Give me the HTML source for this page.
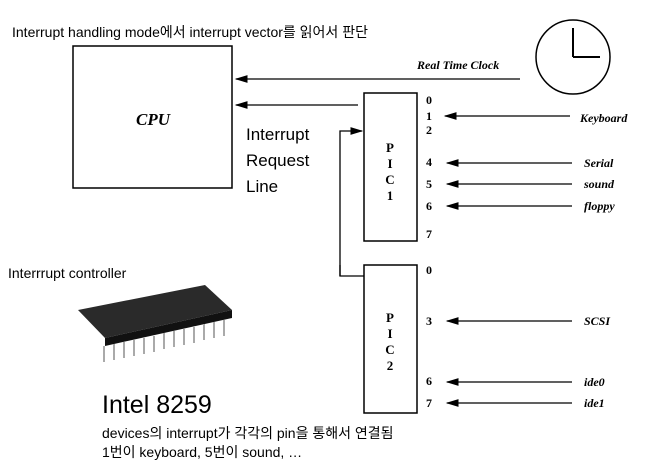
<!DOCTYPE html>
<html><head><meta charset="utf-8"><style>
body{margin:0;width:648px;height:470px;background:#fff;overflow:hidden}
svg{display:block}
.s{font-family:"Liberation Sans","Noto Sans CJK KR",sans-serif}
.m{font-family:"Liberation Serif",serif;font-weight:bold;font-size:12px}
.i{font-family:"Liberation Serif",serif;font-style:italic;font-weight:bold;font-size:12px}
</style></head><body>
<svg width="648" height="470" viewBox="0 0 648 470">
<defs><marker id="b" markerWidth="10" markerHeight="8" refX="9" refY="4" orient="auto"><path d="M0,1 L10,4 L0,7 Z" fill="#000"/></marker></defs>
<text x="12" y="37" class="s" font-size="14">Interrupt handling mode에서 interrupt vector를 읽어서 판단</text>
<rect x="73" y="46" width="159" height="142" fill="none" stroke="#000" stroke-width="1.5"/>
<text x="136" y="125" class="i" style="font-size:17px">CPU</text>
<circle cx="573" cy="57" r="37" fill="none" stroke="#000" stroke-width="1.5"/>
<path d="M573,57 V28 M573,57 H600" stroke="#000" stroke-width="2"/>
<line x1="520" y1="79" x2="236" y2="79" stroke="#000" stroke-width="1.3" marker-end="url(#b)"/>
<text x="417" y="69" class="i">Real Time Clock</text>
<line x1="358" y1="105" x2="236" y2="105" stroke="#000" stroke-width="1.3" marker-end="url(#b)"/>
<text x="246" y="140" class="s" font-size="17">Interrupt</text>
<text x="246" y="166" class="s" font-size="17">Request</text>
<text x="246" y="192" class="s" font-size="17">Line</text>
<rect x="364" y="93" width="53" height="148" fill="none" stroke="#000" stroke-width="1.5"/>
<rect x="364" y="265" width="53" height="148" fill="none" stroke="#000" stroke-width="1.5"/>
<polyline points="340,276 340,131 362,131" fill="none" stroke="#000" stroke-width="1.3" marker-end="url(#b)"/>
<polyline points="340,265 340,276 364,276" fill="none" stroke="#000" stroke-width="1.3"/>
<g class="m" text-anchor="middle" style="font-size:13px"><text x="390" y="152">P</text><text x="390" y="168">I</text><text x="390" y="184">C</text><text x="390" y="200">1</text>
<text x="390" y="322">P</text><text x="390" y="338">I</text><text x="390" y="354">C</text><text x="390" y="370">2</text></g>
<g class="m"><text x="426" y="104">0</text><text x="426" y="120">1</text><text x="426" y="134">2</text><text x="426" y="166">4</text><text x="426" y="188">5</text><text x="426" y="210">6</text><text x="426" y="238">7</text>
<text x="426" y="274">0</text><text x="426" y="325">3</text><text x="426" y="385">6</text><text x="426" y="407">7</text></g>
<g stroke="#000" stroke-width="1.3">
<line x1="570" y1="116" x2="445" y2="116" marker-end="url(#b)"/>
<line x1="572" y1="163" x2="447" y2="163" marker-end="url(#b)"/>
<line x1="572" y1="184" x2="447" y2="184" marker-end="url(#b)"/>
<line x1="572" y1="206" x2="447" y2="206" marker-end="url(#b)"/>
<line x1="572" y1="321" x2="447" y2="321" marker-end="url(#b)"/>
<line x1="572" y1="382" x2="447" y2="382" marker-end="url(#b)"/>
<line x1="572" y1="403" x2="447" y2="403" marker-end="url(#b)"/>
</g>
<g class="i"><text x="580" y="122">Keyboard</text><text x="584" y="167">Serial</text><text x="584" y="188">sound</text><text x="584" y="210">floppy</text>
<text x="584" y="325">SCSI</text><text x="584" y="386">ide0</text><text x="584" y="407">ide1</text></g>
<text x="8" y="278" class="s" font-size="14">Interrrupt controller</text>
<polygon points="78,310 205,285 232,310 105,338" fill="#2a2a2a"/>
<polygon points="105,338 232,310 232,318 105,346" fill="#111"/>
<g stroke="#aaa" stroke-width="2">
<line x1="104" y1="346" x2="104" y2="362"/><line x1="114" y1="344" x2="114" y2="360"/><line x1="124" y1="342" x2="124" y2="358"/><line x1="134" y1="340" x2="134" y2="356"/><line x1="144" y1="338" x2="144" y2="354"/><line x1="154" y1="336" x2="154" y2="352"/><line x1="164" y1="333" x2="164" y2="349"/><line x1="174" y1="331" x2="174" y2="347"/><line x1="184" y1="329" x2="184" y2="345"/><line x1="194" y1="327" x2="194" y2="343"/><line x1="204" y1="324" x2="204" y2="340"/><line x1="214" y1="322" x2="214" y2="338"/><line x1="224" y1="320" x2="224" y2="336"/>
</g>
<text x="102" y="413" class="s" font-size="25">Intel 8259</text>
<text x="102" y="438" class="s" font-size="14">devices의 interrupt가 각각의 pin을 통해서 연결됨</text>
<text x="102" y="457" class="s" font-size="14">1번이 keyboard, 5번이 sound, …</text>
</svg>
</body></html>
